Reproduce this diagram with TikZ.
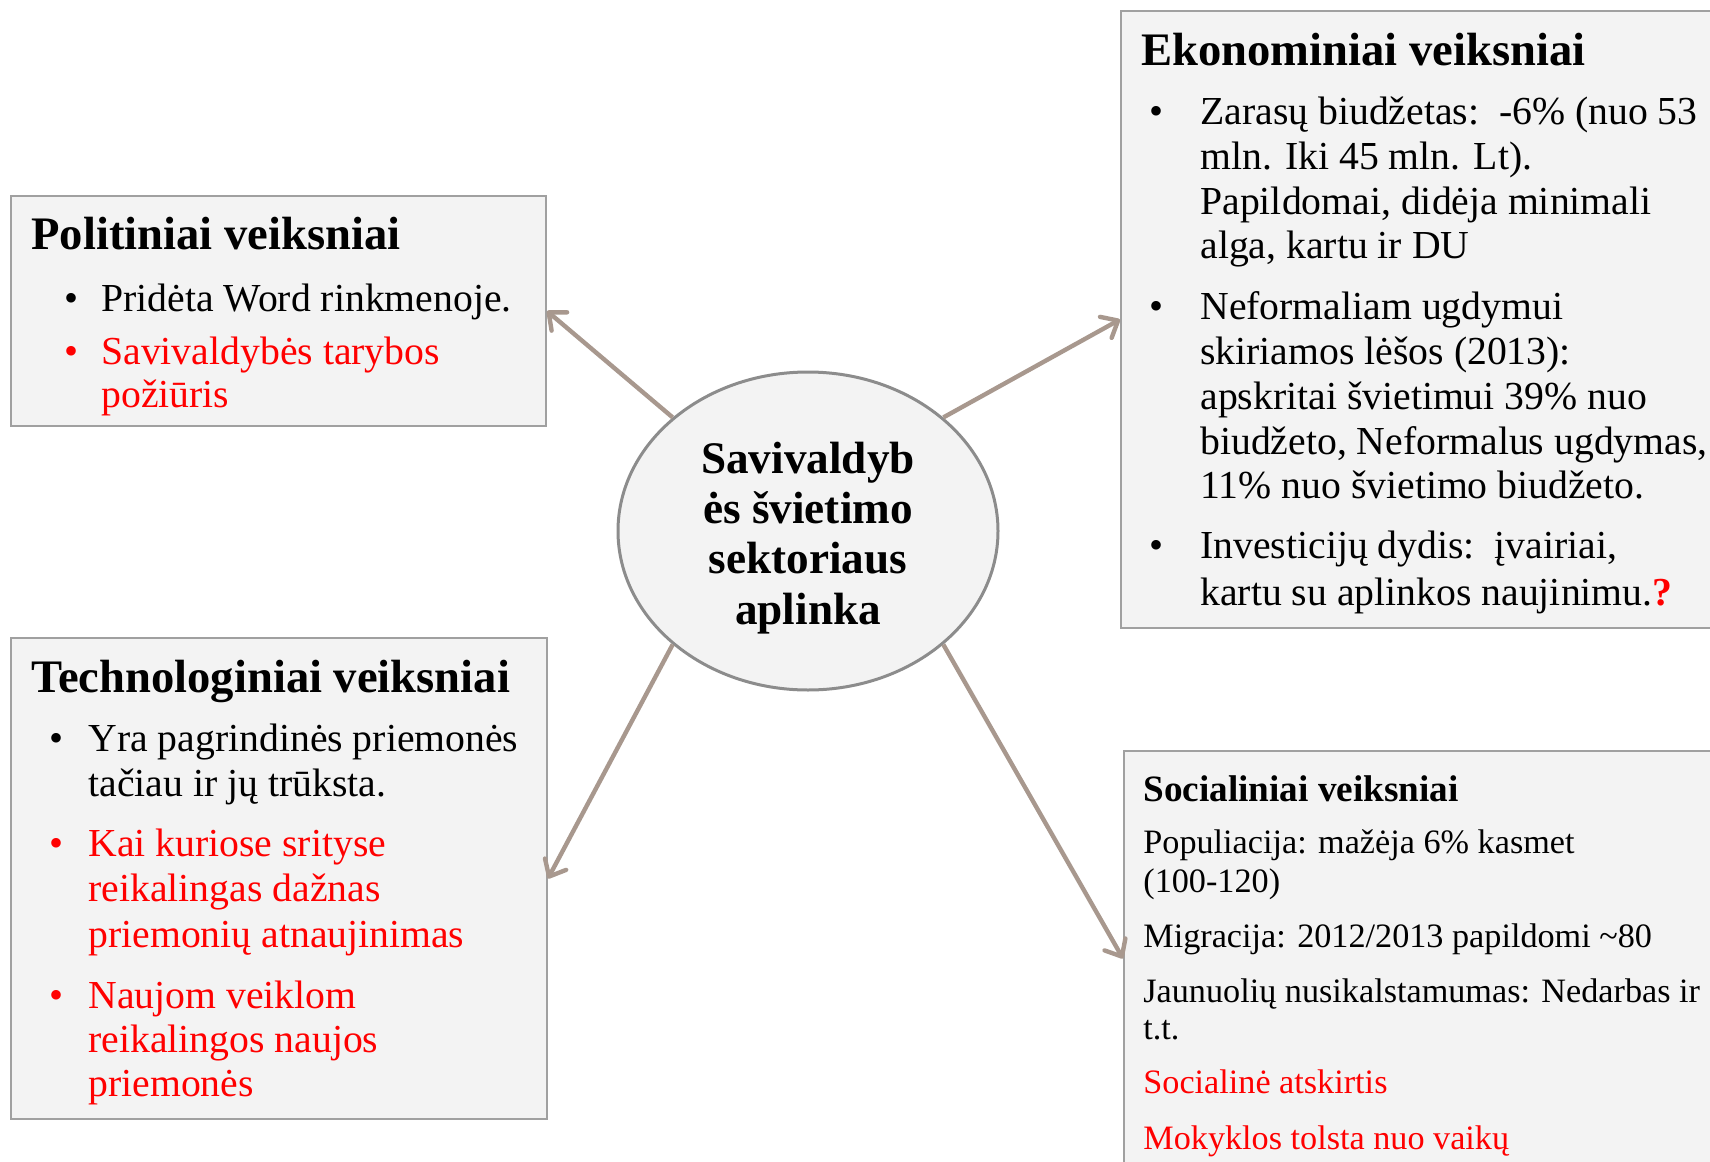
\documentclass[tikz,border=0pt]{standalone}
\usepackage{fontspec}
\setmainfont{Liberation Serif}
\usetikzlibrary{shapes.geometric,arrows.meta}
\definecolor{boxfill}{RGB}{243,243,243}
\definecolor{boxline}{RGB}{160,160,160}
\definecolor{ellline}{RGB}{140,140,140}
\definecolor{arrowc}{RGB}{168,152,142}
\definecolor{redt}{RGB}{255,0,0}
\tikzset{
  box/.style={draw=boxline,line width=1pt,fill=boxfill,anchor=north west,inner sep=0pt},
  ln/.style={anchor=base west,inner sep=0pt,font=\fontsize{19.85}{24}\selectfont},
  red/.style={text=redt},
  ttl/.style={anchor=base west,inner sep=0pt,font=\fontsize{23.3}{27}\selectfont\bfseries},
  sttl/.style={anchor=base west,inner sep=0pt,font=\fontsize{18.6}{22}\selectfont\bfseries},
  sln/.style={anchor=base west,inner sep=0pt,font=\fontsize{17.1}{21}\selectfont},
  bul/.style={anchor=base,inner sep=0pt,font=\fontsize{20}{24}\selectfont},
  ctr/.style={anchor=base,inner sep=0pt,font=\fontsize{22.6}{26}\selectfont\bfseries},
  conn/.style={draw=arrowc,line width=2.2pt,-{Straight Barb[length=7pt,width=12pt,line cap=round,line join=round]}},
}
\begin{document}
\begin{tikzpicture}[x=0.5pt,y=-0.5pt]
\useasboundingbox (0,0) rectangle (1710,1162);
% boxes
\node (pol) [box,minimum width=267.5pt,minimum height=115pt] at (10,195) {};
\node (eko) [box,minimum width=300pt,minimum height=308.5pt] at (1120,10) {};
\node (tech) [box,minimum width=268pt,minimum height=240.5pt] at (10,637) {};
\node (soc) [box,minimum width=298.5pt,minimum height=207.5pt] at (1123,750) {};
% centre
\node (c) [ellipse,draw=ellline,line width=1.5pt,fill=boxfill,minimum width=190pt,minimum height=159pt,inner sep=0pt] at (808,531) {};
% connectors
\draw[conn] (c.140) -- (pol.east);
\draw[conn] (c.40) -- (eko.west);
\draw[conn] (c.220) -- (tech.east);
\draw[conn] (c.320) -- (soc.west);
\begin{scope}[yshift=-1.5pt]
\node (c1) [ctr] at (808,470) {Savivaldyb};
\node (c2) [ctr] at (808,520) {ės švietimo};
\node (c3) [ctr] at (808,570) {sektoriaus};
\node (c4) [ctr] at (808,621) {aplinka};
% Politiniai
\node (p0) [ttl] at (31,246) {Politiniai veiksniai};
\node (pb1) [bul] at (72,308) {•};
\node (p1) [ln] at (101,308) {Pridėta Word rinkmenoje.};
\node (pb2) [bul,red] at (72,361) {•};
\node (p2) [ln,red] at (101,361) {Savivaldybės tarybos};
\node (p3) [ln,red] at (101,404) {požiūris};
% Ekonominiai
\node (e0) [ttl] at (1141,62) {Ekonominiai veiksniai};
\node (eb1) [bul] at (1156,121) {•};
\node (e1) [ln] at (1200,121) {Zarasų biudžetas:\ \ -6\% (nuo 53};
\node (e2) [ln] at (1200,166) {mln. Iki 45 mln. Lt).};
\node (e3) [ln] at (1200,211) {Papildomai, didėja minimali};
\node (e4) [ln] at (1200,255) {alga, kartu ir DU};
\node (eb2) [bul] at (1156,316) {•};
\node (e5) [ln] at (1200,316) {Neformaliam ugdymui};
\node (e6) [ln] at (1200,361) {skiriamos lėšos (2013):};
\node (e7) [ln] at (1200,406) {apskritai švietimui 39\% nuo};
\node (e8) [ln] at (1200,451) {biudžeto, Neformalus ugdymas,};
\node (e9) [ln] at (1200,495) {11\% nuo švietimo biudžeto.};
\node (eb3) [bul] at (1156,555) {•};
\node (e10) [ln] at (1200,555) {Investicijų dydis:\ \ įvairiai,};
\node (e11) [ln] at (1200,602) {kartu su aplinkos naujinimu.{\color{redt}\bfseries ?}};
% Technologiniai
\node (t0) [ttl] at (31,689) {Technologiniai veiksniai};
\node (tb1) [bul] at (57,748) {•};
\node (t1) [ln] at (88,748) {Yra pagrindinės priemonės};
\node (t2) [ln] at (88,793) {tačiau ir jų trūksta.};
\node (tb2) [bul,red] at (57,853) {•};
\node (t3) [ln,red] at (88,853) {Kai kuriose srityse};
\node (t4) [ln,red] at (88,898) {reikalingas dažnas};
\node (t5) [ln,red] at (88,944) {priemonių atnaujinimas};
\node (tb3) [bul,red] at (57,1005) {•};
\node (t6) [ln,red] at (88,1005) {Naujom veiklom};
\node (t7) [ln,red] at (88,1049) {reikalingos naujos};
\node (t8) [ln,red] at (88,1093) {priemonės};
% Socialiniai
\node (s0) [sttl] at (1143,798) {Socialiniai veiksniai};
\node (s1) [sln] at (1143,850) {Populiacija: mažėja 6\% kasmet};
\node (s2) [sln] at (1143,889) {(100-120)};
\node (s3) [sln] at (1143,944) {Migracija: 2012/2013 papildomi \textasciitilde 80};
\node (s4) [sln] at (1143,999) {Jaunuolių nusikalstamumas: Nedarbas ir};
\node (s5) [sln] at (1143,1036) {t.t.};
\node (s6) [sln,red] at (1143,1090) {Socialinė atskirtis};
\node (s7) [sln,red] at (1143,1146) {Mokyklos tolsta nuo vaikų};
\end{scope}
\end{tikzpicture}
\end{document}
